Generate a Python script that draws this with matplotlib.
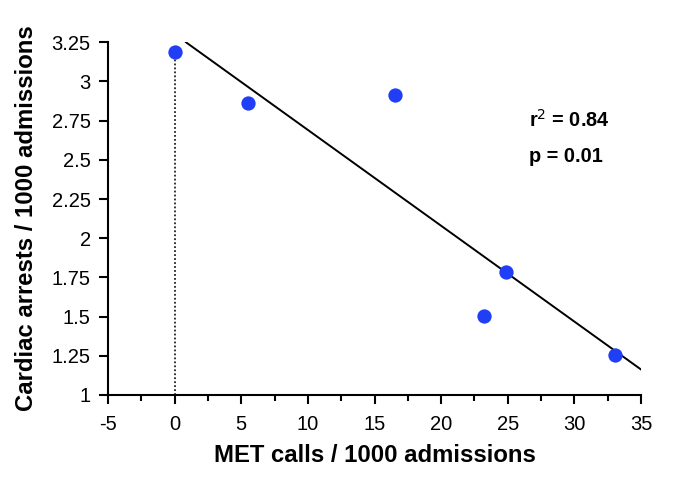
import matplotlib
matplotlib.use("Agg")
import matplotlib.pyplot as plt
from matplotlib.ticker import MultipleLocator
import numpy as np

plt.rcParams["font.family"] = ["Liberation Sans", "DejaVu Sans"]

# data
met_calls = [0.0, 5.48, 16.53, 23.18, 24.86, 33.03]
cardiac_arrests = [3.19, 2.864, 2.913, 1.504, 1.784, 1.255]
x_ticks = [-5, 0, 5, 10, 15, 20, 25, 30, 35]
y_ticks = [1, 1.25, 1.5, 1.75, 2, 2.25, 2.5, 2.75, 3, 3.25]
y_tick_labels = ["1", "1.25", "1.5", "1.75", "2", "2.25", "2.5", "2.75", "3", "3.25"]
fit_range = [0.85, 35]
stats_text = ["r$^2$ = 0.84", "p = 0.01"]

fig = plt.figure(figsize=(6.85, 4.8), dpi=100)
ax = fig.add_axes([0.1577, 0.1771, 0.9358 - 0.1577, 0.912 - 0.1771])

# regression line
slope, intercept = np.polyfit(met_calls, cardiac_arrests, 1)
xs = np.array(fit_range)
ax.plot(xs, slope * xs + intercept, color="black", linewidth=1.4, zorder=2)

# dotted reference at x = 0
ax.plot([0, 0], [1, cardiac_arrests[0]], color="#222222", linestyle=(0, (1, 1.2)),
        linewidth=1.3, zorder=1)

ax.plot(met_calls, cardiac_arrests, "o", color="#1f3ef5", markersize=10.3,
        markeredgewidth=0, zorder=3)

ax.text(26.6, 2.754, stats_text[0], fontsize=14.3, fontweight="bold", va="center")
ax.text(26.6, 2.524, stats_text[1], fontsize=14.3, fontweight="bold", va="center")

ax.set_xlim(-5, 35)
ax.set_ylim(1, 3.25)
ax.set_xticks(x_ticks)
ax.set_xticklabels([str(t) for t in x_ticks])
ax.xaxis.set_minor_locator(MultipleLocator(2.5))
ax.set_yticks(y_ticks)
ax.set_yticklabels(y_tick_labels)

for side in ["top", "right"]:
    ax.spines[side].set_visible(False)
for side in ["left", "bottom"]:
    ax.spines[side].set_linewidth(1.5)

ax.tick_params(axis="both", which="major", direction="out", length=6.5, width=1.5,
               labelsize=14.5, pad=6)
ax.tick_params(axis="x", which="major", pad=8)
ax.tick_params(axis="x", which="minor", direction="out", length=4, width=1.5)

ax.set_xlabel("MET calls / 1000 admissions", fontsize=17.2, fontweight="bold", labelpad=7)
ax.set_ylabel("Cardiac arrests / 1000 admissions", fontsize=17.2, fontweight="bold", labelpad=10)

fig.savefig("out.png", dpi=100)
plt.close(fig)
